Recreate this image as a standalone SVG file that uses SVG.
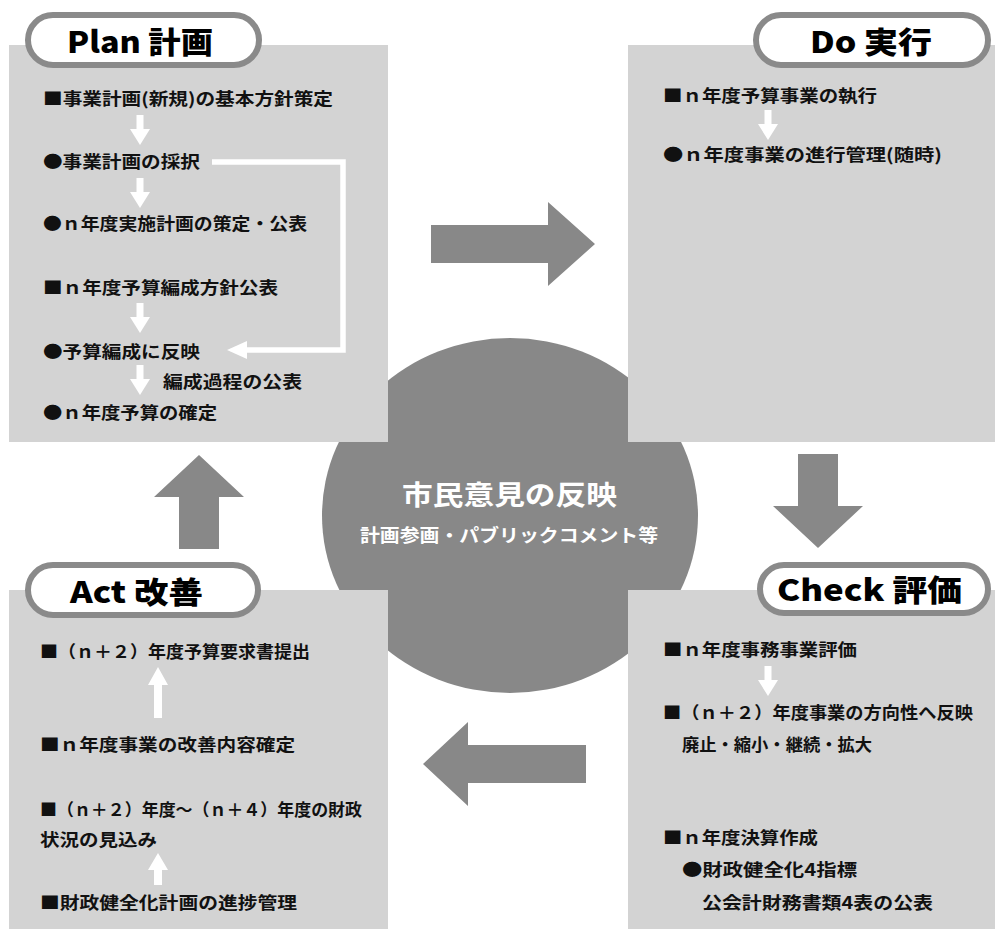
<svg xmlns="http://www.w3.org/2000/svg" width="995" height="929" viewBox="0 0 995 929">
<defs>
<style>
.box{fill:#d3d3d3}
.big{fill:#888888}
.pill{fill:#ffffff;stroke:#8a8a8a;stroke-width:6}
.title{font-family:"Noto Sans CJK JP","Liberation Sans",sans-serif;font-weight:900;font-size:30px;fill:#000}
.t{font-family:"Noto Sans CJK JP","Liberation Sans",sans-serif;font-weight:700;font-size:17px;fill:#111}
.c1{font-family:"Noto Sans CJK JP","Liberation Sans",sans-serif;font-weight:700;font-size:27px;fill:#fff}
.c2{font-family:"Noto Sans CJK JP","Liberation Sans",sans-serif;font-weight:700;font-size:18px;fill:#fff}
.w{fill:#ffffff}
.wl{fill:none;stroke:#ffffff;stroke-width:5.5}
</style>
<path id="wdown" d="M-3.5,0 H3.5 V14 H10 L0,30 L-10,14 H-3.5 Z"/>
</defs>

<g id="center">
<ellipse cx="510" cy="515.5" rx="188" ry="177.5" class="big"/>
</g>

<g id="plan">
<rect x="9" y="45" width="379" height="397" class="box"/>
<rect x="28" y="15" width="231" height="50" rx="25" class="pill"/>
<text x="67" y="53" class="title" textLength="146" lengthAdjust="spacingAndGlyphs">Plan 計画</text>
<text x="43" y="105" class="t" textLength="290" lengthAdjust="spacingAndGlyphs">■事業計画(新規)の基本方針策定</text>
<text x="43" y="168" class="t" textLength="157" lengthAdjust="spacingAndGlyphs">●事業計画の採択</text>
<text x="43" y="230" class="t" textLength="264" lengthAdjust="spacingAndGlyphs">●ｎ年度実施計画の策定・公表</text>
<text x="43" y="294" class="t" textLength="235" lengthAdjust="spacingAndGlyphs">■ｎ年度予算編成方針公表</text>
<text x="43" y="358" class="t" textLength="157" lengthAdjust="spacingAndGlyphs">●予算編成に反映</text>
<text x="163" y="388" class="t" textLength="139" lengthAdjust="spacingAndGlyphs">編成過程の公表</text>
<text x="43" y="419" class="t" textLength="174" lengthAdjust="spacingAndGlyphs">●ｎ年度予算の確定</text>
</g>

<g id="do">
<rect x="628" y="45" width="367" height="397" class="box"/>
<rect x="756" y="15" width="232" height="50" rx="25" class="pill"/>
<text x="810" y="53" class="title" textLength="122" lengthAdjust="spacingAndGlyphs">Do 実行</text>
<text x="663" y="102" class="t" textLength="214" lengthAdjust="spacingAndGlyphs">■ｎ年度予算事業の執行</text>
<text x="663" y="161" class="t" textLength="279" lengthAdjust="spacingAndGlyphs">●ｎ年度事業の進行管理(随時)</text>
</g>

<g id="check">
<rect x="628" y="590" width="367" height="339" class="box"/>
<rect x="760" y="565" width="228" height="48" rx="24" class="pill"/>
<text x="777" y="601" class="title" textLength="185" lengthAdjust="spacingAndGlyphs">Check 評価</text>
<text x="663" y="656" class="t" textLength="194" lengthAdjust="spacingAndGlyphs">■ｎ年度事務事業評価</text>
<text x="663" y="719" class="t" textLength="310" lengthAdjust="spacingAndGlyphs">■（ｎ＋２）年度事業の方向性へ反映</text>
<text x="682" y="751" class="t" textLength="190" lengthAdjust="spacingAndGlyphs">廃止・縮小・継続・拡大</text>
<text x="663" y="844" class="t" textLength="155" lengthAdjust="spacingAndGlyphs">■ｎ年度決算作成</text>
<text x="682" y="876" class="t" textLength="175" lengthAdjust="spacingAndGlyphs">●財政健全化4指標</text>
<text x="702" y="909" class="t" textLength="231" lengthAdjust="spacingAndGlyphs">公会計財務書類4表の公表</text>
</g>

<g id="act">
<rect x="9" y="590" width="379" height="339" class="box"/>
<rect x="28" y="565" width="230" height="50" rx="25" class="pill"/>
<text x="70" y="603" class="title" textLength="133" lengthAdjust="spacingAndGlyphs">Act 改善</text>
<text x="40" y="658" class="t" textLength="270" lengthAdjust="spacingAndGlyphs">■（ｎ＋２）年度予算要求書提出</text>
<text x="40" y="751" class="t" textLength="255" lengthAdjust="spacingAndGlyphs">■ｎ年度事業の改善内容確定</text>
<text x="40" y="816" class="t" textLength="322" lengthAdjust="spacingAndGlyphs">■（ｎ＋２）年度～（ｎ＋４）年度の財政</text>
<text x="40" y="846" class="t" textLength="117" lengthAdjust="spacingAndGlyphs">状況の見込み</text>
<text x="40" y="909" class="t" textLength="257" lengthAdjust="spacingAndGlyphs">■財政健全化計画の進捗管理</text>
</g>

<g id="center-text">
<text x="402" y="505" class="c1" textLength="215" lengthAdjust="spacingAndGlyphs">市民意見の反映</text>
<text x="360" y="542" class="c2" textLength="298" lengthAdjust="spacingAndGlyphs">計画参画・パブリックコメント等</text>
</g>

<g id="connectors">
<polygon class="big" points="431,225 548,225 548,202 595,244 548,286 548,263 431,263"/>
<polygon class="big" points="798,454 838,454 838,506 863,506 818,548 773,506 798,506"/>
<polygon class="big" points="586,745 468,745 468,722 423,764 468,806 468,783 586,783"/>
<polygon class="big" points="199,455 244,497 219,497 219,549 179,549 179,497 154,497"/>
<use href="#wdown" x="140" y="115" class="w"/>
<use href="#wdown" x="140" y="178" class="w"/>
<use href="#wdown" x="140" y="303" class="w"/>
<use href="#wdown" x="140" y="365" class="w"/>
<use href="#wdown" x="768" y="110" class="w"/>
<use href="#wdown" x="768" y="666" class="w"/>
<polyline class="wl" points="212,162 343,162 343,350 245,350"/>
<polygon class="w" points="247,341 227,350 247,359"/>
<path class="w" d="M158,667 L168,685 H162 V718 H154 V685 H148 Z"/>
<path class="w" d="M158,853 L168,870 H162 V885 H154 V870 H148 Z"/>
</g>
</svg>
